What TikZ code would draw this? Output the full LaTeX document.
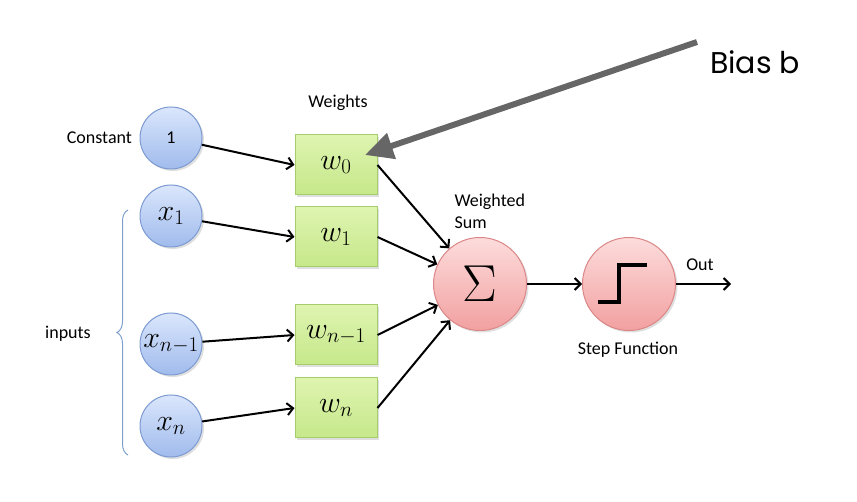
\RequirePackage{fix-cm}
\documentclass[tikz,border=0pt]{standalone}
\usepackage{fontspec}
\setmainfont{Carlito}
\newfontfamily\biasfont{Poppins}
\usetikzlibrary{arrows.meta,decorations.pathreplacing,shadows}

\definecolor{intop}{RGB}{218,230,252}
\definecolor{inbot}{RGB}{160,187,236}
\definecolor{inline}{RGB}{125,155,210}
\definecolor{wtop}{RGB}{222,244,176}
\definecolor{wbot}{RGB}{198,232,138}
\definecolor{wline}{RGB}{165,205,105}
\definecolor{stop}{RGB}{253,220,220}
\definecolor{sbot}{RGB}{242,160,160}
\definecolor{sline}{RGB}{220,135,135}
\definecolor{biasgray}{RGB}{102,102,102}
\definecolor{bracecol}{RGB}{125,160,205}

\begin{document}
\begin{tikzpicture}[x=1pt, y=-1pt,
    every node/.style={font=\fontsize{18}{22}\selectfont},
    mathsize/.style={font=\fontsize{30}{32}\selectfont},
    innode/.style={circle, draw=inline, line width=1pt, top color=intop, bottom color=inbot,
        minimum size=62pt, inner sep=0pt, drop shadow={opacity=0.25, shadow xshift=2pt, shadow yshift=-2pt}},
    wbox/.style={rectangle, draw=wline, line width=1pt, top color=wtop, bottom color=wbot,
        minimum width=82pt, minimum height=60pt, inner sep=0pt, drop shadow={opacity=0.25, shadow xshift=2pt, shadow yshift=-2pt}},
    sumnode/.style={circle, draw=sline, line width=1pt, top color=stop, bottom color=sbot,
        minimum size=93pt, inner sep=0pt, drop shadow={opacity=0.25, shadow xshift=2pt, shadow yshift=-2pt}},
    conn/.style={line width=2pt, -{Straight Barb[length=6pt,width=12pt]}},
    biasarrow/.style={line width=6pt, biasgray, -{Triangle[length=28pt,width=26pt]}},
    inbrace/.style={bracecol, line width=1pt, decorate, decoration={brace, amplitude=11pt}}]

\useasboundingbox (0,0) rectangle (857,502);

% inputs
\node (one) at (171, 138) [innode] {1};
\node (x1) at (171, 216) [innode, mathsize] {$x_1$};
\node (xn1) at (171, 344) [innode, mathsize] {$x_{n-1}$};
\node (xn) at (171, 426) [innode, mathsize] {$x_n$};

% weights
\node (w0) at (336, 165) [wbox, mathsize] {$w_0$};
\node (w1) at (336, 237) [wbox, mathsize] {$w_1$};
\node (wn1) at (336, 335) [wbox, mathsize] {$w_{n-1}$};
\node (wn) at (336, 408) [wbox, mathsize] {$w_n$};

% sum and step
\node (sum) at (480, 284) [sumnode, font=\fontsize{52}{52}\selectfont] {$\Sigma$};
\node (step) at (629, 284) [sumnode] {};
\draw[line width=4pt, line join=miter] ([shift={(-31,18)}]step.center) -- ([shift={(-10,18)}]step.center)
    -- ([shift={(-10,-19)}]step.center) -- ([shift={(18,-19)}]step.center);

% labels
\node (const) at ([xshift=-4pt]one.west) [anchor=east] {Constant};
\node (weights) at (338, 103) {Weights};
\node (wsum) at (451, 211) [anchor=west, align=left] {Weighted\\Sum};
\node (outlabel) at (700, 265) {Out};
\node (stepfn) at (628, 350) {Step Function};
\node (inputs) at (68, 334) {inputs};
\node (bias) at (755, 62) [font=\biasfont\fontsize{30}{32}\selectfont] {Bias b};

\coordinate (bracebot) at (128, 455);
\coordinate (bracetop) at (128, 210);
\draw[inbrace] (bracebot) -- (bracetop);

\draw[conn] (one) -- (w0.west);
\draw[conn] (x1) -- (w1.west);
\draw[conn] (xn1) -- (wn1.west);
\draw[conn] (xn) -- (wn.west);

\draw[conn] (w0.east) -- (sum);
\draw[conn] (w1.east) -- (sum);
\draw[conn] (wn1.east) -- (sum);
\draw[conn] (wn.east) -- (sum);

\coordinate (out) at (731, 284);
\draw[conn] (sum) -- (step);
\draw[conn] (step) -- (out);

\coordinate (biastail) at (697, 42);
\coordinate (biastip) at (365, 155);
\draw[biasarrow] (biastail) -- (biastip);
\end{tikzpicture}
\end{document}
